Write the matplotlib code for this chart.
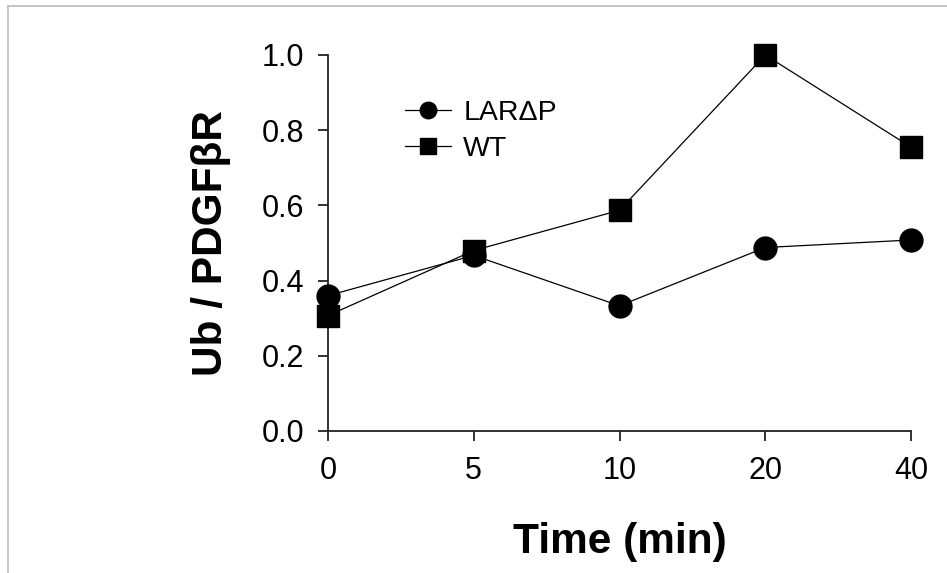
import numpy as np
import matplotlib.pyplot as plt
from matplotlib.lines import Line2D

plt.rcParams['font.family'] = ['Liberation Sans', 'DejaVu Sans']

times = ['0', '5', '10', '20', '40']
lar_dp = [0.36, 0.467, 0.333, 0.488, 0.508]
wt = [0.307, 0.48, 0.587, 1.0, 0.755]

x = np.arange(len(times))

fig = plt.figure(figsize=(9.47, 5.73), dpi=100)
ax = fig.add_axes([328/947, 142/573, (911-328)/947, (518-142)/573])

ax.plot(x, lar_dp, color='black', lw=0.9, marker='o', ms=16.5,
        label='LARΔP', clip_on=False, zorder=3)
ax.plot(x, wt, color='black', lw=0.9, marker='s', ms=16.5,
        label='WT', clip_on=False, zorder=3)

ax.set_xlim(0, 4)
ax.set_ylim(0, 1.0)
ax.set_xticks(x)
ax.set_xticklabels(times)
ax.set_yticks(np.arange(0, 1.01, 0.2))
ax.set_yticklabels(['0.0', '0.2', '0.4', '0.6', '0.8', '1.0'])

for s in ['top', 'right']:
    ax.spines[s].set_visible(False)
for s in ['left', 'bottom']:
    ax.spines[s].set_linewidth(1.3)
    ax.spines[s].set_color('#222222')

ax.tick_params(axis='x', direction='out', length=7.2, width=1.3, pad=11,
               labelsize=22, color='#222222')
ax.tick_params(axis='y', direction='out', length=7.2, width=1.3, pad=10,
               labelsize=22, color='#222222')

ax.set_xlabel('Time (min)', fontsize=30.5, fontweight='bold', labelpad=26)
ax.set_ylabel('Ub / PDGFβR', fontsize=30.5, fontweight='bold', labelpad=22)

ax.legend(loc='upper left', bbox_to_anchor=(405/947, 1-100/573),
          bbox_transform=fig.transFigure, frameon=False, fontsize=20.5,
          handlelength=1.6, handletextpad=0.45, labelspacing=0.35,
          borderpad=0, borderaxespad=0, markerscale=0.72)

# light grey frame on the top and left edge of the image
fig.add_artist(Line2D([8/947, 8/947], [0, 1-6/573], transform=fig.transFigure,
                      color='#bbbbbb', lw=1.2))
fig.add_artist(Line2D([8/947, 1], [1-6/573, 1-6/573], transform=fig.transFigure,
                      color='#bbbbbb', lw=1.2))

fig.savefig('out.png', dpi=100)
